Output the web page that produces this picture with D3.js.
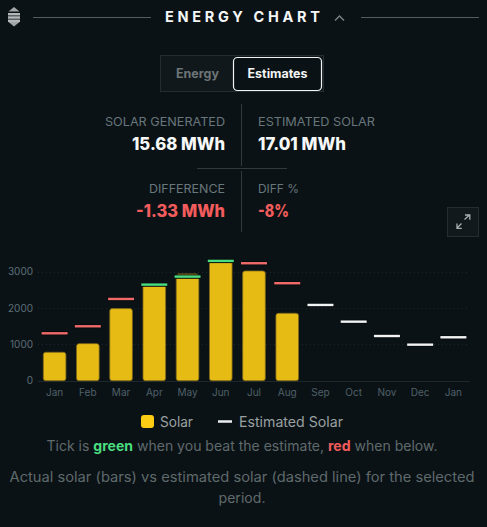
<!DOCTYPE html>
<html><head><meta charset="utf-8">
<script src="https://cdn.jsdelivr.net/npm/d3@7"></script>
<style>
html,body{margin:0;padding:0;background:#0b1216;overflow:hidden}
svg{display:block}
text{font-family:Inter,"Noto Sans",sans-serif}
</style></head><body><svg id="c" width="487" height="527"></svg>
<script>
const months=["Jan","Feb","Mar","Apr","May","Jun","Jul","Aug","Sep","Oct","Nov","Dec","Jan"];
const solar=[782,1020,1985,2660,2940,3310,3020,1855,null,null,null,null,null];
const estimated=[1305,1498,2250,2645,2865,3297,3233,2683,2085,1625,1230,992,1195];
const yTicks=[0,1000,2000,3000];
const stats=[["SOLAR GENERATED","15.68 MWh"],["ESTIMATED SOLAR","17.01 MWh"],["DIFFERENCE","-1.33 MWh"],["DIFF %","-8%"]];
const svg=d3.select("#c");
const T=(x,y,s,size,fill,anchor="start",weight=400,ls=0,w)=>{const t=svg.append("text").attr("x",x).attr("y",y).text(s).attr("font-size",size).attr("fill",fill).attr("text-anchor",anchor).attr("font-weight",weight);if(ls)t.attr("letter-spacing",ls);if(w)t.attr("textLength",w).attr("lengthAdjust","spacingAndGlyphs");return t;};
// header
svg.append("line").attr("x1",33).attr("x2",151).attr("y1",17.5).attr("y2",17.5).attr("stroke","#565b5e");
svg.append("line").attr("x1",361).attr("x2",479).attr("y1",17.5).attr("y2",17.5).attr("stroke","#565b5e");
T(165,22,"ENERGY CHART",14.5,"#f4f6f6","start",700).attr("textLength",155).attr("lengthAdjust","spacing");
svg.append("path").attr("d","M335 20.5l4.5-4.5 4.5 4.5").attr("fill","none").attr("stroke","#7d8385").attr("stroke-width",1.4);
svg.append("path").attr("d","M14 7l5.5 4.5h-11zM14 26.5l-5.5-4.5h11z").attr("fill","#a1a6a6");
svg.append("rect").attr("x",8).attr("y",13).attr("width",12).attr("height",9).attr("fill","#5b6163");
[13,16.5,20].forEach(y=>svg.append("rect").attr("x",8).attr("y",y).attr("width",12).attr("height",2).attr("fill","#b4b8b8"));
// toggle
svg.append("rect").attr("x",160.5).attr("y",55.5).attr("width",163).attr("height",36).attr("fill","#10181c").attr("stroke","#262d31");
svg.append("rect").attr("x",233.5).attr("y",57.5).attr("width",88).attr("height",33).attr("rx",4).attr("fill","#0b1216").attr("stroke","#f2f4f4").attr("stroke-width",1.2);
T(197.5,78,"Energy",12.5,"#6c7476","middle",700,0,43);
T(277.5,78,"Estimates",12.5,"#f2f4f4","middle",700,0,60);
// stats
svg.append("line").attr("x1",241.5).attr("x2",241.5).attr("y1",104).attr("y2",166).attr("stroke","#33393c");
svg.append("line").attr("x1",241.5).attr("x2",241.5).attr("y1",171).attr("y2",232).attr("stroke","#33393c");
svg.append("line").attr("x1",197).attr("x2",287).attr("y1",168.5).attr("y2",168.5).attr("stroke","#33393c");
const red="#f25c5c",lab="#68777b";
T(225,126,stats[0][0],12,lab,"end",400,0,120);
T(258,126,stats[1][0],12,lab,"start",400,0,117);
T(225,150,stats[0][1],17,"#f6f8f8","end",800,0,93);
T(258,150,stats[1][1],17,"#f6f8f8","start",800,0,88);
T(225,193,stats[2][0],12,lab,"end",400,0,76);
T(258,193,stats[3][0],12,lab,"start",400,0,41);
T(225,217,stats[2][1],17,red,"end",800,0,89);
T(258,217,stats[3][1],17,red,"start",800,0,31);
// expand button
svg.append("rect").attr("x",447.5).attr("y",207.5).attr("width",31).attr("height",29).attr("fill","#11191d").attr("stroke","#262d31");
svg.append("path").attr("d","M457 228l4.5-4.5M464.5 219.5l5-4.5M465 215h4.8v4.8M457 223.5v4.8h4.8").attr("fill","none").attr("stroke","#a9aeae").attr("stroke-width",1.3);
// chart
const x=d3.scaleBand().domain(d3.range(months.length)).range([38,470]).paddingInner(0.32).paddingOuter(0.16);
const y=d3.scaleLinear().domain([0,3000]).range([380.7,271.7]);
const g=svg.append("g");
g.selectAll(".g").data(yTicks).join("line").attr("x1",38).attr("x2",470).attr("y1",d=>Math.round(y(d))+.5).attr("y2",d=>Math.round(y(d))+.5).attr("stroke","#1e272b").attr("stroke-dasharray",d=>d?"1 3":null);
g.selectAll(".yl").data(yTicks).join("text").attr("x",33).attr("y",d=>y(d)+3.5).attr("text-anchor","end").attr("font-size",10).attr("fill","#5d6f76").text(d=>d);
g.selectAll(".xl").data(months).join("text").attr("x",(d,i)=>x(i)+x.bandwidth()/2).attr("y",396).attr("text-anchor","middle").attr("font-size",10).attr("fill","#4f6068").text(d=>d);
const barData=solar.map((v,i)=>({v,i})).filter(d=>d.v!=null);
g.selectAll(".b").data(barData).join("path").attr("fill","#e6bc14").attr("stroke","#80691a").attr("stroke-width",.8)
 .attr("d",d=>{const r=2.5,X=x(d.i),W=x.bandwidth(),Y=y(d.v),B=y(0);return `M${X} ${B-r}V${Y+r}Q${X} ${Y} ${X+r} ${Y}H${X+W-r}Q${X+W} ${Y} ${X+W} ${Y+r}V${B-r}Q${X+W} ${B} ${X+W-r} ${B}H${X+r}Q${X} ${B} ${X} ${B-r}Z`;});
const tc=i=>solar[i]==null?"#f2f4f4":solar[i]>=estimated[i]?"#4ade80":"#f06a6a";
const tx=i=>x(i)+x.bandwidth()/2;
g.selectAll(".h").data(estimated).join("line").attr("x1",(d,i)=>tx(i)-13.5).attr("x2",(d,i)=>tx(i)+13.5).attr("y1",d=>y(d)).attr("y2",d=>y(d)).attr("stroke","#070c0f").attr("stroke-width",4.4);
g.selectAll(".t").data(estimated).join("line").attr("x1",(d,i)=>tx(i)-13).attr("x2",(d,i)=>tx(i)+13).attr("y1",d=>y(d)).attr("y2",d=>y(d)).attr("stroke",(d,i)=>tc(i)).attr("stroke-width",2.4);
// legend
svg.append("rect").attr("x",141).attr("y",415).attr("width",13).attr("height",13).attr("rx",3).attr("fill","#fccb14");
T(160,427,"Solar",14,"#99a1a1","start",400,0,33);
svg.append("line").attr("x1",218).attr("x2",232).attr("y1",421.5).attr("y2",421.5).attr("stroke","#eceff2").attr("stroke-width",2.5);
T(239,427,"Estimated Solar",14,"#99a1a1","start",400,0,104);
// notes
const note=svg.append("text").attr("x",242).attr("y",451).attr("text-anchor","middle").attr("font-size",14).attr("fill","#5f6a6c");
note.append("tspan").text("Tick is ");
note.append("tspan").text("green").attr("fill","#4ade80").attr("font-weight",700);
note.append("tspan").text(" when you beat the estimate, ");
note.append("tspan").text("red").attr("fill","#f25c5c").attr("font-weight",700);
note.append("tspan").text(" when below.");
note.attr("textLength",391).attr("lengthAdjust","spacingAndGlyphs");
T(242,481.5,"Actual solar (bars) vs estimated solar (dashed line) for the selected",14,"#5f6a6c","middle",400,0,465);
T(242,503,"period.",14,"#5f6a6c","middle",400,0,47);
</script></body></html>
